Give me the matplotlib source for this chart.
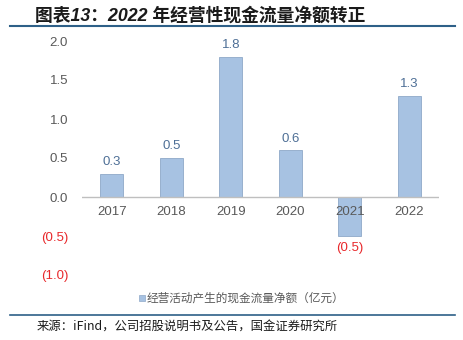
import matplotlib
matplotlib.use("Agg")
import matplotlib.pyplot as plt
from matplotlib.lines import Line2D
from matplotlib.patches import Rectangle

plt.rcParams['font.family'] = ['Liberation Sans', 'Noto Sans CJK SC', 'DejaVu Sans']

years = ['2017', '2018', '2019', '2020', '2021', '2022']
values = [0.3, 0.5, 1.8, 0.6, -0.5, 1.3]
yticks = [-1.0, -0.5, 0.0, 0.5, 1.0, 1.5, 2.0]
title = '图表13：2022 年经营性现金流量净额转正'
legend_label = '经营活动产生的现金流量净额（亿元）'
source = '来源：iFind，公司招股说明书及公告，国金证券研究所'

bar_color = '#a7c2e2'
edge_color = '#8fa9c8'
pos_label = '#4e6f96'
neg_color = '#e8282b'
tick_gray = '#595959'
line_blue = '#2e6088'

W, H = 463, 340
fig = plt.figure(figsize=(W / 100, H / 100), dpi=100)
ax = fig.add_axes([82 / W, 1 - 275 / H, (439 - 82) / W, (275 - 41) / H])

x = list(range(len(years)))
ax.bar(x, values, width=0.39, color=bar_color, edgecolor=edge_color, linewidth=0.6, zorder=2)
ax.axhline(0, color='#bfbfbf', linewidth=1.0, zorder=3)
ax.set_xlim(-0.5, len(years) - 0.5)
ax.set_ylim(-1.0, 2.0)

for s in ax.spines.values():
    s.set_visible(False)
ax.set_xticks([])
ax.set_yticks(yticks)
labels = [f'({abs(v):.1f})' if v < 0 else f'{v:.1f}' for v in yticks]
ax.set_yticklabels(labels)
ax.tick_params(axis='y', length=0, pad=10, labelsize=9.5)
for lab, v in zip(ax.get_yticklabels(), yticks):
    lab.set_color(neg_color if v < 0 else tick_gray)

# year labels just below zero line
for i, yr in enumerate(years):
    ax.annotate(yr, (i, 0), xytext=(0, -6.5), textcoords='offset points',
                ha='center', va='top', fontsize=9.5, color=tick_gray, zorder=4)

# data labels
for i, v in enumerate(values):
    if v >= 0:
        ax.annotate(f'{v:.1f}', (i, v), xytext=(0, 4), textcoords='offset points',
                    ha='center', va='bottom', fontsize=9.5, color=pos_label)
    else:
        ax.annotate(f'({abs(v):.1f})', (i, v), xytext=(0, -4), textcoords='offset points',
                    ha='center', va='top', fontsize=9.5, color=neg_color)

# title
fig.text(35 / W, 1 - 16 / H, title, fontsize=12.8, fontweight='bold', style='italic',
         ha='left', va='center', color='#1a1a1a',
         family=['Liberation Sans', 'Noto Sans CJK SC'])
fig.add_artist(Line2D([10 / W, 455 / W], [1 - 26 / H, 1 - 26 / H], color=line_blue, linewidth=1.5))

# legend
fig.add_artist(Rectangle((139 / W, 1 - 301 / H), 6 / W, 6 / H, facecolor=bar_color,
                         edgecolor=edge_color, linewidth=0.5))
fig.text(147 / W, 1 - 298 / H, legend_label, fontsize=8.4, ha='left', va='center',
         color=tick_gray, family=['Noto Sans CJK SC', 'Liberation Sans'])

# source
fig.add_artist(Line2D([10 / W, 455 / W], [1 - 315 / H, 1 - 315 / H], color=line_blue, linewidth=1.2))
fig.text(37 / W, 1 - 327 / H, source, fontsize=8.9, ha='left', va='center',
         color='#1a1a1a', family=['Noto Sans CJK SC', 'Liberation Sans'])

fig.savefig('out.png', dpi=100)
